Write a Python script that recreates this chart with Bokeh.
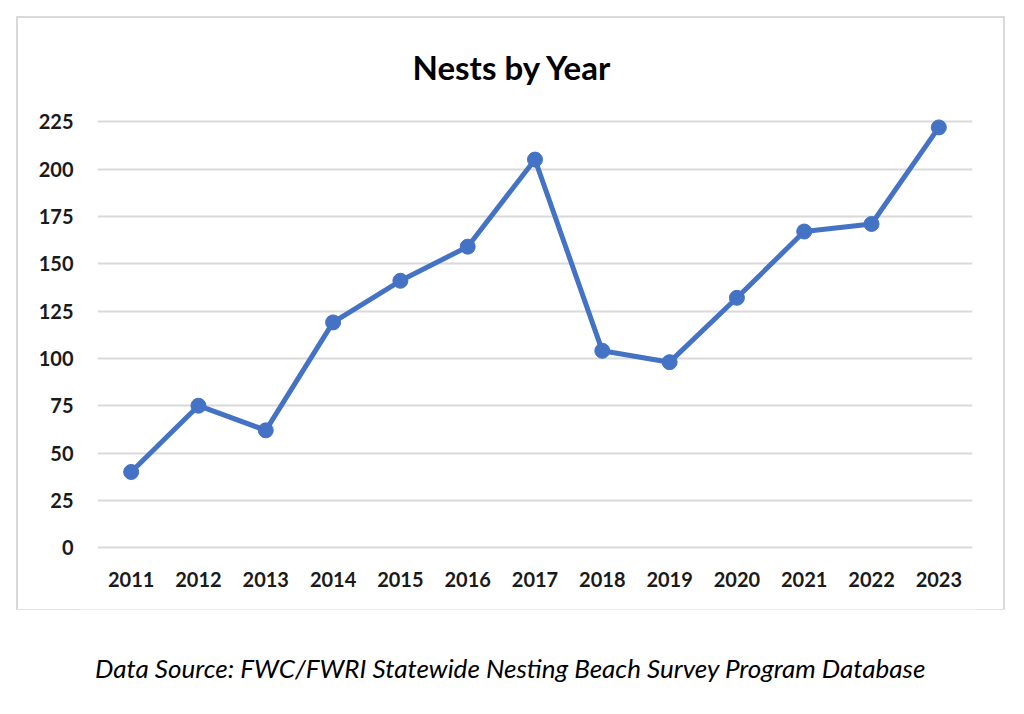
from bokeh.plotting import figure
from bokeh.layouts import column
from bokeh.models import Range1d, FactorRange, Label, FixedTicker
from bokeh.embed import file_html
from bokeh.resources import INLINE

years = ["2011", "2012", "2013", "2014", "2015", "2016", "2017",
         "2018", "2019", "2020", "2021", "2022", "2023"]
nests = [40, 75, 62, 119, 141, 159, 205, 104, 98, 132, 167, 171, 222]
y_ticks = [0, 25, 50, 75, 100, 125, 150, 175, 200, 225]

title_text = "Nests by Year"
caption_text = "Data Source: FWC/FWRI Statewide Nesting Beach Survey Program Database"

# chart box (bordered) : 985 x 591, placed at (18, 18)
BW, BH = 985, 591
BL, BR, BT, BB = 79, 31, 22, 58
PX_PER_UNIT = 426 / 225.0
y_lo = -2
y_hi = y_lo + (BH - BT - BB) / PX_PER_UNIT

p = figure(width=BW, height=BH, output_backend="svg", toolbar_location=None,
           x_range=FactorRange(*years, range_padding=0),
           y_range=Range1d(y_lo, y_hi),
           min_border_left=BL, min_border_right=BR,
           min_border_top=BT, min_border_bottom=BB,
           margin=(18, 0, 0, 18),
           styles={"outline": "2px solid #D9D9D9"})
p.outline_line_color = None
p.background_fill_color = "white"
p.border_fill_color = "white"

p.xgrid.grid_line_color = None
p.ygrid.grid_line_color = "#D9D9D9"
p.ygrid.grid_line_width = 2
p.yaxis.ticker = FixedTicker(ticks=y_ticks)

for ax in (p.xaxis[0], p.yaxis[0]):
    ax.axis_line_color = None
    ax.major_tick_line_color = None
    ax.minor_tick_line_color = None
    ax.major_label_text_font = "Lato"
    ax.major_label_text_font_style = "bold"
    ax.major_label_text_font_size = "20px"
    ax.major_label_text_color = "#1a1a1a"
p.yaxis.major_label_standoff = 18
p.xaxis.major_label_standoff = 14

p.line(years, nests, line_color="#4472C4", line_width=5)
p.scatter(years, nests, size=15, fill_color="#4472C4", line_color="#4472C4")

# title (screen units are relative to the frame: x from left, y up from bottom)
frame_bottom_img = 18 + BH - BB
p.add_layout(Label(x=512 - 18 - BL, y=frame_bottom_img - 66,
                   x_units="screen", y_units="screen",
                   text=title_text, text_font="Lato", text_font_style="bold",
                   text_font_size="33px", text_align="center",
                   text_baseline="alphabetic", text_color="#000000"))

# caption strip below the box (its frame is aligned with the chart's frame)
CW, CH = 1008, 105
cap = figure(width=CW, height=CH, output_backend="svg", toolbar_location=None,
             x_axis_location=None, y_axis_location=None,
             min_border=0, x_range=Range1d(0, 1), y_range=Range1d(0, 1))
cap.outline_line_color = None
cap.grid.visible = False
cap.add_layout(Label(x=510 - BL, y=CH - 58, x_units="screen", y_units="screen",
                     text=caption_text, text_font="Lato", text_font_style="italic",
                     text_font_size="26px", text_align="center",
                     text_baseline="middle", text_color="#000000"))

layout = column(p, cap, spacing=0)
open("out.html", "w").write(file_html(layout, INLINE))
